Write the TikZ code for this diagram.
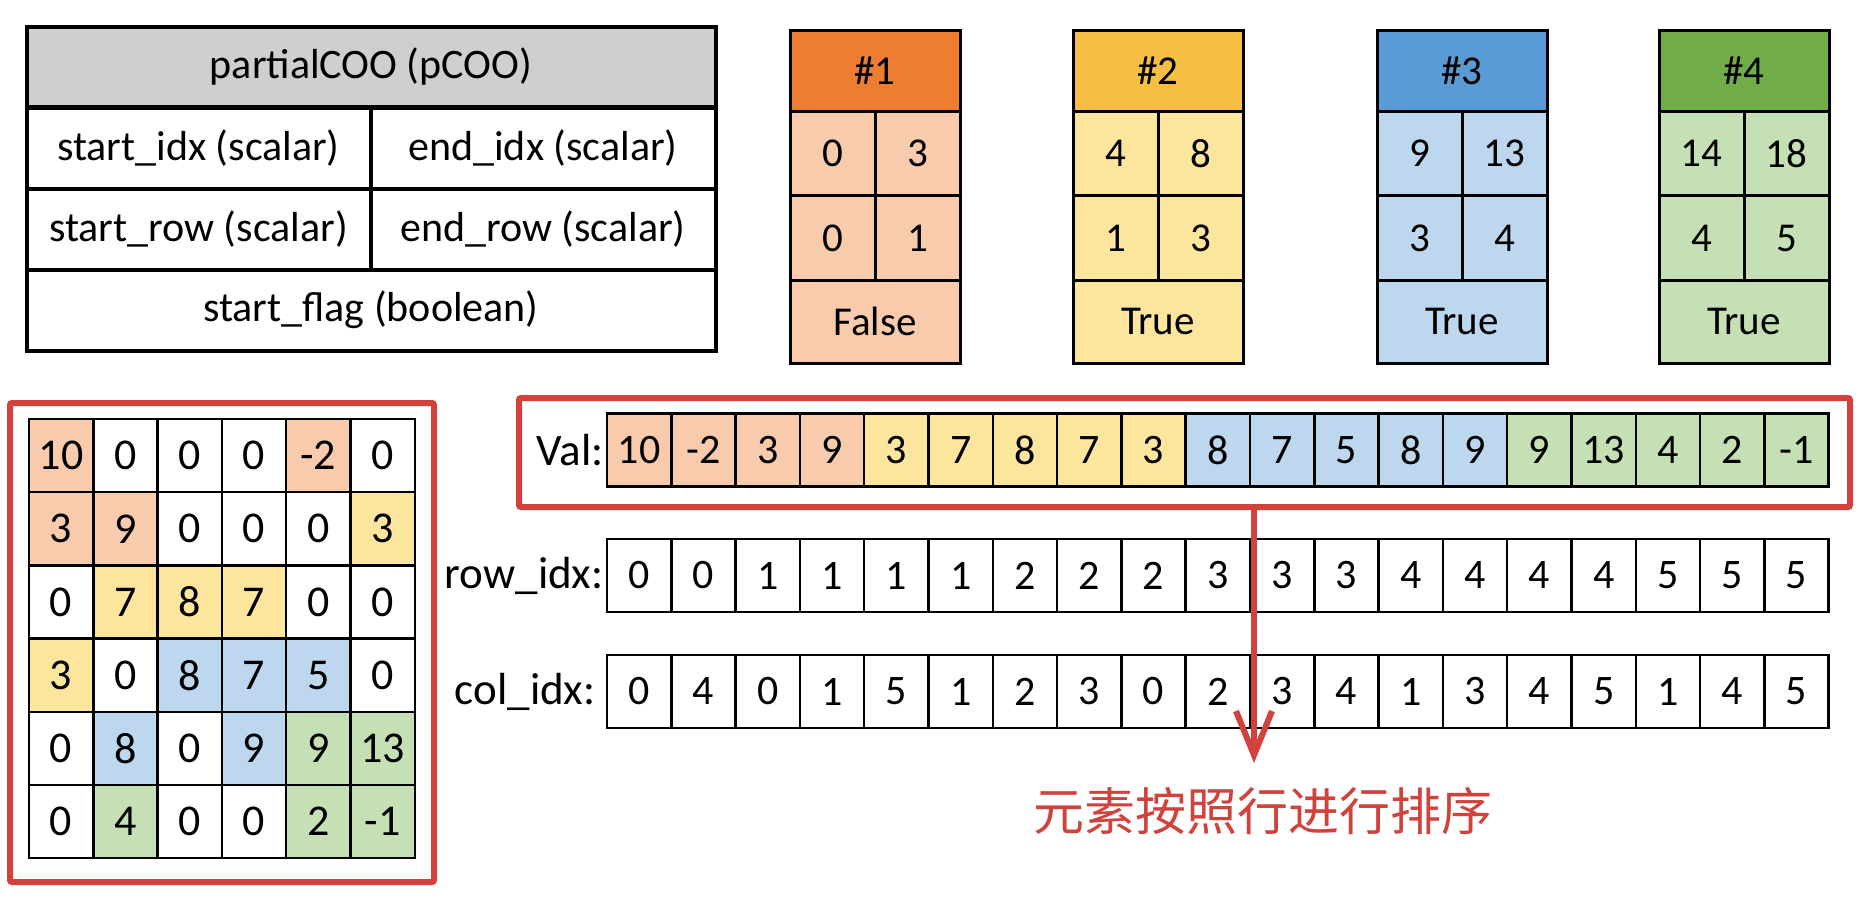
\documentclass[tikz,border=0pt]{standalone}
\usepackage{fontspec}
\setmainfont{Carlito}
\newfontfamily\cjk{Noto Sans CJK SC}
\usetikzlibrary{arrows.meta}
\definecolor{cO}{HTML}{F8CBAD}
\definecolor{cY}{HTML}{FCE59D}
\definecolor{cB}{HTML}{BDD7EE}
\definecolor{cG}{HTML}{C5E0B4}
\definecolor{cW}{HTML}{FFFFFF}
\definecolor{hO}{HTML}{ED7D31}
\definecolor{hY}{HTML}{F4BF42}
\definecolor{hB}{HTML}{5B9BD5}
\definecolor{hG}{HTML}{70AD47}
\definecolor{hGray}{HTML}{D0CECE}
\definecolor{myred}{HTML}{D0423B}
\tikzset{
  tcell/.style={draw=black, line width=4pt, inner sep=0pt, font=\fontsize{42}{50}\selectfont},
  bcell/.style={draw=black, line width=3pt, inner sep=0pt, font=\fontsize{41}{50}\selectfont},
  mcell/.style={draw=black, line width=2.5pt, inner sep=0pt, minimum width=64.3pt, minimum height=73.2pt, font=\fontsize{44}{50}\selectfont},
  acell/.style={draw=black, line width=2.5pt, inner sep=0pt, minimum width=64.3pt, minimum height=73pt, font=\fontsize{42}{50}\selectfont},
  lbl/.style={inner sep=2pt, font=\fontsize{45}{50}\selectfont},
  redbox/.style={draw=myred, line width=6pt, rounded corners=2pt, inner sep=0pt},
  redarrow/.style={draw=myred, line width=6pt, -{Straight Barb[length=44pt,width=36pt]}}
}
\begin{document}
\begin{tikzpicture}[x=1pt,y=-1pt]
\useasboundingbox (0,0) rectangle (1872,898);
% pCOO table
\node[tcell, fill=hGray, minimum width=689pt, minimum height=80pt] (hdr) at (371,67) {partialCOO (pCOO)};
\node[tcell, minimum width=344pt, minimum height=81pt] (sidx) at (198.5,148) {start\_idx (scalar)};
\node[tcell, minimum width=345pt, minimum height=81pt] (eidx) at (543,148) {end\_idx (scalar)};
\node[tcell, minimum width=344pt, minimum height=81pt] (srow) at (198.5,229) {start\_row (scalar)};
\node[tcell, minimum width=345pt, minimum height=81pt] (erow) at (543,229) {end\_row (scalar)};
\node[tcell, minimum width=689pt, minimum height=81pt] (sflag) at (371,310) {start\_flag (boolean)};
% blocks
\foreach \bx/\num/\a/\b/\c/\d/\flag/\col in {875/1/0/3/0/1/False/O, 1158/2/4/8/1/3/True/Y, 1462/3/9/13/3/4/True/B, 1744/4/14/18/4/5/True/G}{
  \node[bcell, fill=h\col, minimum width=170pt, minimum height=81pt] (bh\num) at (\bx,70.5) {\#\num};
  \node[bcell, fill=c\col, minimum width=85pt, minimum height=85pt] (ba\num) at (\bx-42.5,153.5) {\a};
  \node[bcell, fill=c\col, minimum width=85pt, minimum height=85pt] (bb\num) at (\bx+42.5,153.5) {\b};
  \node[bcell, fill=c\col, minimum width=85pt, minimum height=85pt] (bc\num) at (\bx-42.5,238) {\c};
  \node[bcell, fill=c\col, minimum width=85pt, minimum height=85pt] (bd\num) at (\bx+42.5,238) {\d};
  \node[bcell, fill=c\col, minimum width=170pt, minimum height=83pt] (bf\num) at (\bx,321.5) {\flag};
}
% matrix
\node[redbox, minimum width=424pt, minimum height=479pt] (matbox) at (222,642.5) {};
\foreach \row [count=\i] in {{10/O,0/W,0/W,0/W,-2/O,0/W},{3/O,9/O,0/W,0/W,0/W,3/Y},{0/W,7/Y,8/Y,7/Y,0/W,0/W},{3/Y,0/W,8/B,7/B,5/B,0/W},{0/W,8/B,0/W,9/B,9/G,13/G},{0/W,4/G,0/W,0/W,2/G,-1/G}}{
  \foreach \v/\c [count=\j] in \row {
    \node[mcell, fill=c\c] (m\i\j) at ({29+64.3*(\j-0.5)},{419+73.2*(\i-0.5)}) {\v};
  }
}
% arrays
\node[redbox, minimum width=1331pt, minimum height=109pt] (valbox) at (1184.5,452.5) {};
\foreach \v/\c [count=\k] in {10/O,-2/O,3/O,9/O,3/Y,7/Y,8/Y,7/Y,3/Y,8/B,7/B,5/B,8/B,9/B,9/G,13/G,4/G,2/G,-1/G}{
  \node[acell, fill=c\c] (v\k) at ({607+64.3*(\k-0.5)},450) {\v};
}
\foreach \v [count=\k] in {0,0,1,1,1,1,2,2,2,3,3,3,4,4,4,4,5,5,5}{
  \node[acell] (r\k) at ({607+64.3*(\k-0.5)},575.5) {\v};
}
\foreach \v [count=\k] in {0,4,0,1,5,1,2,3,0,2,3,4,1,3,4,5,1,4,5}{
  \node[acell] (c\k) at ({607+64.3*(\k-0.5)},691.5) {\v};
}
\node[lbl, anchor=east] (vallbl) at (v1.west) {Val:};
\node[lbl, anchor=east] (rowlbl) at (r1.west) {row\_idx:};
\node[lbl, anchor=east] (collbl) at ([xshift=-8pt]c1.west) {col\_idx:};
% arrow and note
\coordinate (tip) at (1254,763);
\draw[redarrow] (valbox.south -| tip) -- (tip);
\node[text=myred, inner sep=0pt, font=\cjk\fontsize{51}{60}\selectfont] (note) at (1263,811) {元素按照行进行排序};
\end{tikzpicture}
\end{document}
